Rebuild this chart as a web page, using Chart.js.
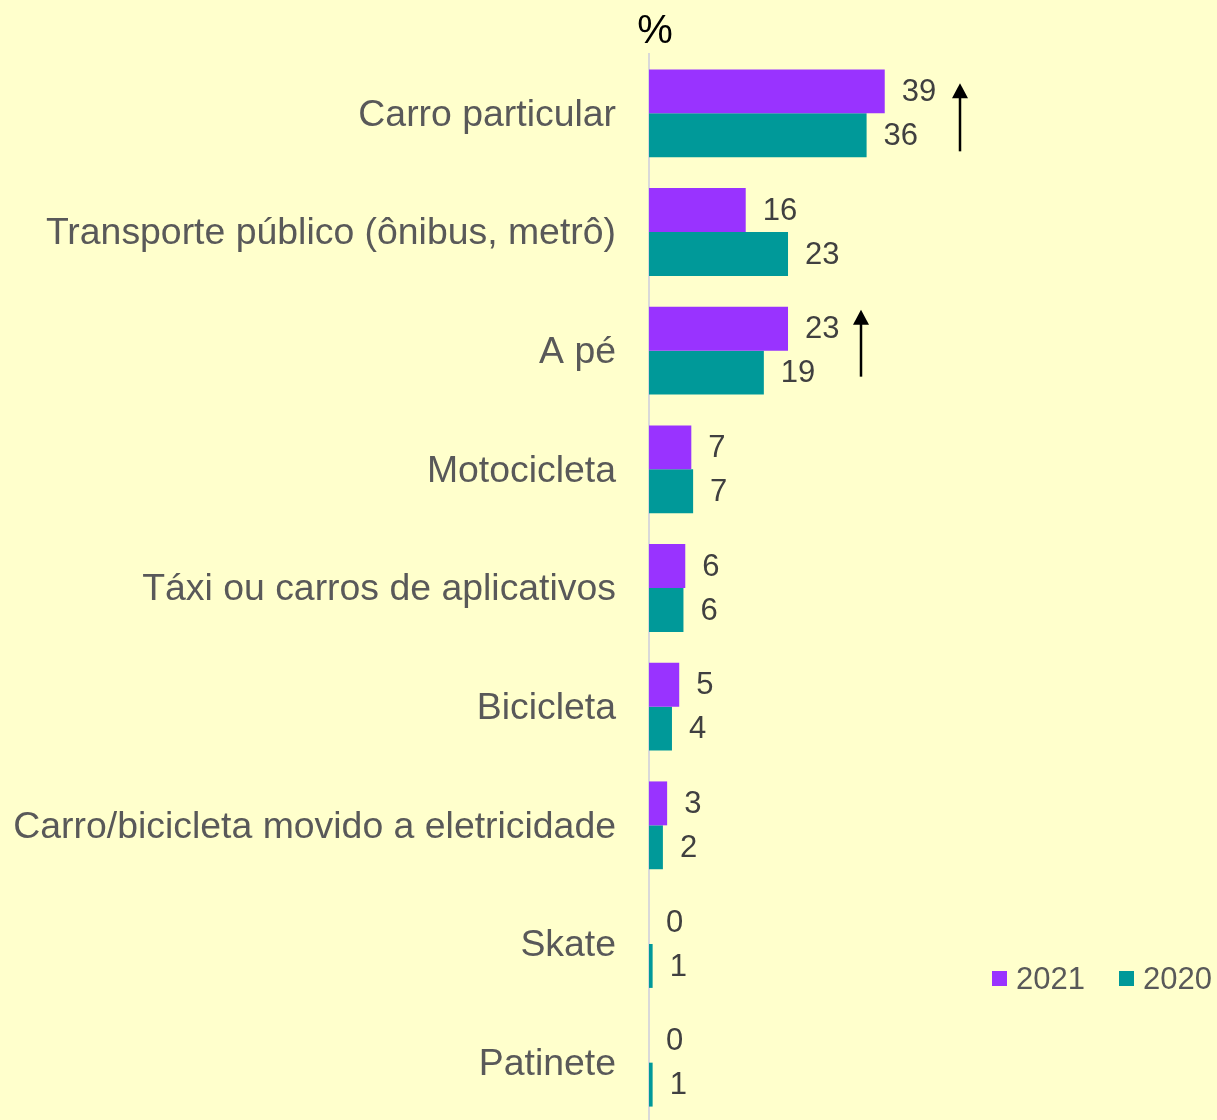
<!DOCTYPE html>
<html>
<head>
<meta charset="utf-8">
<script src="https://cdn.jsdelivr.net/npm/chart.js@4.4.1/dist/chart.umd.min.js"></script>
<style>
  html, body { margin:0; padding:0; background:#FFFFCC; overflow:hidden; }
  #chart { display:block; }
</style>
</head>
<body>
<canvas id="chart" width="1217" height="1122"></canvas>
<script>
//Data
const categories = [
    'Carro particular',
    'Transporte público (ônibus, metrô)',
    'A pé',
    'Motocicleta',
    'Táxi ou carros de aplicativos',
    'Bicicleta',
    'Carro/bicicleta movido a eletricidade',
    'Skate',
    'Patinete'
];
const values2021 = [39, 16, 23, 7, 6, 5, 3, 0, 0];
const values2020 = [36, 23, 19, 7.3, 5.7, 3.8, 2.3, 0.6, 0.6];
const seriesNames = ['2021', '2020'];
const seriesColors = ['#9933FF', '#009999'];
// rises marked with an arrow: category index and where the arrow sits on the x scale
const arrowRows = [0, 2];
const arrowAt = [51.5, 35];

const FONT = '"Liberation Sans", Arial, sans-serif';

//Plugins
const bgPlugin = {
    id: 'bg',
    beforeDraw(chart) {
        const ctx = chart.ctx;
        ctx.save();
        ctx.fillStyle = '#FFFFCC';
        ctx.fillRect(0, 0, chart.width, chart.height);
        ctx.restore();
    }
};

const labelPlugin = {
    id: 'valueLabels',
    afterDatasetsDraw(chart) {
        const ctx = chart.ctx;
        ctx.save();
        ctx.font = '31px ' + FONT;
        ctx.fillStyle = '#404040';
        ctx.textAlign = 'left';
        ctx.textBaseline = 'middle';
        chart.data.datasets.forEach((ds, i) => {
            const meta = chart.getDatasetMeta(i);
            meta.data.forEach((bar, j) => {
                ctx.fillText(String(Math.round(ds.data[j])), bar.x + 17, bar.y + 1);
            });
        });

        // arrows (offsets from the category centre, px)
        const xs = chart.scales.x;
        const ys = chart.scales.y;
        const tops = [-30, -41];
        const bottoms = [38, 26];
        ctx.strokeStyle = '#000';
        ctx.fillStyle = '#000';
        ctx.lineWidth = 2.5;
        for (let k = 0; k < arrowRows.length; k++) {
            const x = Math.round(xs.getPixelForValue(arrowAt[k]));
            const yc = ys.getPixelForValue(arrowRows[k]);
            const top = yc + tops[k];
            const bottom = yc + bottoms[k];
            ctx.beginPath();
            ctx.moveTo(x, bottom);
            ctx.lineTo(x, top + 12);
            ctx.stroke();
            ctx.beginPath();
            ctx.moveTo(x, top);
            ctx.lineTo(x - 8, top + 15);
            ctx.lineTo(x + 8, top + 15);
            ctx.closePath();
            ctx.fill();
        }

        // % title
        ctx.font = '40px ' + FONT;
        ctx.fillStyle = '#000';
        ctx.textAlign = 'center';
        ctx.fillText('%', xs.left + 6, 32);

        // legend
        ctx.font = '31px ' + FONT;
        ctx.textAlign = 'left';
        const legX = [992, 1119];
        const legY = 979;
        for (let s = 0; s < seriesNames.length; s++) {
            ctx.fillStyle = seriesColors[s];
            ctx.fillRect(legX[s], legY - 8, 15, 15);
            ctx.fillStyle = '#595959';
            ctx.fillText(seriesNames[s], legX[s] + 24, legY + 1);
        }
        ctx.restore();
    }
};

const theChart = new Chart(document.querySelector('#chart'), {
    type: 'bar',
    data: {
        labels: categories,
        datasets: [
            { label: seriesNames[0], data: values2021, backgroundColor: seriesColors[0] },
            { label: seriesNames[1], data: values2020, backgroundColor: seriesColors[1] }
        ]
    },
    options: {
        indexAxis: 'y',
        responsive: false,
        maintainAspectRatio: false,
        animation: false,
        layout: { padding: { top: 54, right: 24, bottom: 0, left: 0 } },
        datasets: { bar: { barPercentage: 1, categoryPercentage: 0.74 } },
        scales: {
            x: {
                display: false,
                min: 0,
                max: 90
            },
            y: {
                grid: { display: false, drawTicks: false },
                border: { display: true, color: '#D9D9D9', width: 2 },
                ticks: {
                    color: '#595959',
                    font: { family: FONT, size: 37.4 },
                    padding: 33,
                    labelOffset: 2
                },
                afterFit(scale) {
                    scale.width = 649;
                    scale.paddingTop = 0;
                    scale.paddingBottom = 0;
                }
            }
        },
        plugins: {
            legend: { display: false },
            tooltip: { enabled: false }
        }
    },
    plugins: [bgPlugin, labelPlugin]
});
</script>
</body>
</html>
